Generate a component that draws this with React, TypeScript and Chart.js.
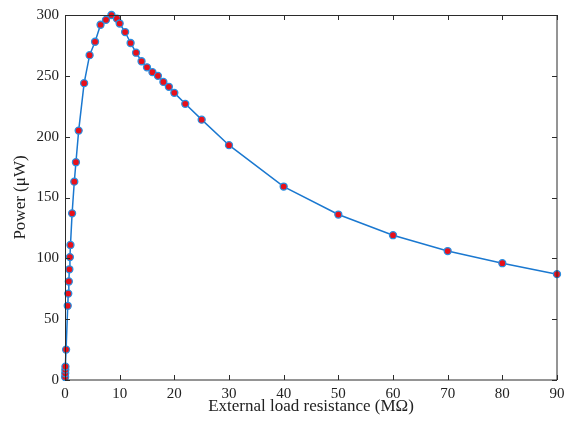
import React, { useEffect, useRef } from "react";
import { Chart, registerables } from "chart.js";

Chart.register(...registerables);

const resistance = [0.02, 0.04, 0.06, 0.08, 0.2, 0.5, 0.6, 0.7, 0.8, 0.9, 1.0, 1.3, 1.7, 2.0, 2.5, 3.5, 4.5, 5.5, 6.5, 7.5, 8.5, 9.5, 10, 11, 12, 13, 14, 15, 16, 17, 18, 19, 20, 22, 25, 30, 40, 50, 60, 70, 80, 90];
const power = [2.5, 5.5, 8.5, 11, 25, 61, 71, 81, 91, 101, 111, 137, 163, 179, 205, 244, 267, 278, 292, 296, 300, 297, 293, 286, 277, 269, 262, 257, 253, 250, 245, 241, 236, 227, 214, 193, 159, 136, 119, 106, 96, 87];
const xTicks = [0, 10, 20, 30, 40, 50, 60, 70, 80, 90];
const yTicks = [0, 50, 100, 150, 200, 250, 300];

const FONT = "'Liberation Serif', 'Times New Roman', serif";

const framePlugin = {
  id: "frame",
  afterDraw(chart: any) {
    const { ctx, chartArea } = chart;
    const { left, right, top, bottom } = chartArea;
    const xs = chart.scales.x;
    const ys = chart.scales.y;
    const tl = 5;
    ctx.save();
    ctx.strokeStyle = "#2b2b2b";
    ctx.lineWidth = 1;
    ctx.beginPath();
    ctx.rect(left + 0.5, top + 0.5, right - left - 0.5, bottom - top - 0.5);
    ctx.stroke();
    ctx.beginPath();
    for (const v of xTicks) {
      const px = Math.round(xs.getPixelForValue(v)) + 0.5;
      ctx.moveTo(px, bottom);
      ctx.lineTo(px, bottom - tl);
      ctx.moveTo(px, top);
      ctx.lineTo(px, top + tl);
    }
    for (const v of yTicks) {
      const py = Math.round(ys.getPixelForValue(v)) + 0.5;
      ctx.moveTo(left, py);
      ctx.lineTo(left + tl, py);
      ctx.moveTo(right, py);
      ctx.lineTo(right - tl, py);
    }
    ctx.stroke();
    ctx.restore();
  },
};

export default function App() {
  const ref = useRef<HTMLCanvasElement | null>(null);
  useEffect(() => {
    document.body.style.margin = "0";
    const canvas = ref.current!;
    const chart = new Chart(canvas, {
      type: "line",
      data: {
        datasets: [
          {
            data: resistance.map((r, i) => ({ x: r, y: power[i] })),
            borderColor: "#1a78d0",
            borderWidth: 1.5,
            backgroundColor: "#e8101a",
            pointBackgroundColor: "#e8101a",
            pointBorderColor: "#2a8ee0",
            pointBorderWidth: 1.3,
            pointRadius: 3.5,
            tension: 0,
            clip: false,
          },
        ],
      },
      options: {
        responsive: false,
        animation: false,
        layout: { padding: { top: 15, right: 10, left: 0, bottom: 0 } },
        plugins: { legend: { display: false }, tooltip: { enabled: false } },
        scales: {
          x: {
            type: "linear",
            min: 0,
            max: 90,
            afterBuildTicks: (s: any) => {
              s.ticks = xTicks.map((v) => ({ value: v }));
            },
            afterFit: (s: any) => {
              s.height = 50;
              s.paddingLeft = 0;
              s.paddingRight = 0;
            },
            grid: { display: false, drawTicks: false },
            border: { display: false },
            ticks: { padding: 5, color: "#222", font: { family: FONT, size: 15 }, maxRotation: 0 },
            title: {
              display: true,
              text: "External load resistance (MΩ)",
              color: "#222",
              font: { family: FONT, size: 17 },
              padding: { top: 0, bottom: 13 },
            },
          },
          y: {
            type: "linear",
            min: 0,
            max: 300,
            afterBuildTicks: (s: any) => {
              s.ticks = yTicks.map((v) => ({ value: v }));
            },
            afterFit: (s: any) => {
              s.width = 65;
              s.paddingTop = 0;
              s.paddingBottom = 0;
            },
            grid: { display: false, drawTicks: false },
            border: { display: false },
            ticks: { padding: 6, color: "#222", font: { family: FONT, size: 15 } },
            title: {
              display: true,
              text: "Power (μW)",
              color: "#222",
              font: { family: FONT, size: 17 },
              padding: { top: 10, bottom: 0 },
            },
          },
        },
      },
      plugins: [framePlugin],
    } as any);
    return () => chart.destroy();
  }, []);
  return (
    <div style={{ position: "relative", width: 567, height: 430, background: "#fff" }}>
      <canvas ref={ref} width={567} height={430} style={{ display: "block" }} />
    </div>
  );
}
